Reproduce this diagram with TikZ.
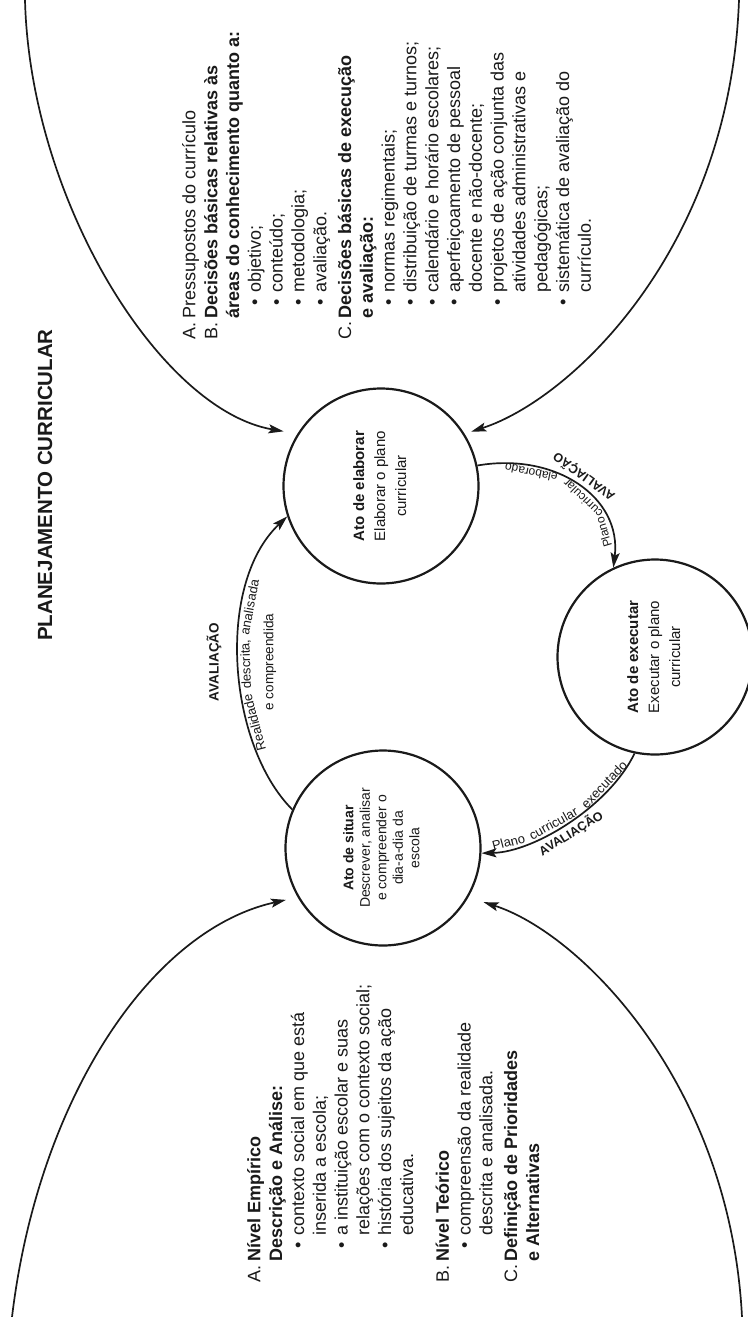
\documentclass[tikz,border=0pt]{standalone}
\usepackage{fontspec}
\setmainfont{Liberation Sans}
\usetikzlibrary{arrows.meta}
\definecolor{ink}{HTML}{1A1A1A}
\newcommand\lblx[1]{\makebox[21pt][l]{#1}}
\newcommand\indx{\hspace*{21pt}}
\newcommand\bulx{\hspace*{47pt}\llap{\textbullet\hspace{6pt}}}
\newcommand\contx{\hspace*{47pt}}
\begin{document}
\begin{tikzpicture}[x=1pt,y=1pt,
  line/.style={line width=1.7pt, draw=ink},
  arr/.style={line, -{Stealth[length=15pt,width=9pt,inset=3pt]}},
  act/.style={circle, draw=ink, line width=2.2pt, minimum size=195pt, inner sep=0pt, text=ink},
  txt/.style={rotate=90, anchor=north west, inner sep=0pt, align=left, text=ink, font=\fontsize{18}{21.8}\selectfont},
  lbl/.style={rotate=90, text=ink, inner sep=0pt, font=\fontsize{13.5}{16}\selectfont},
  lblb/.style={lbl, font=\bfseries\fontsize{13.5}{16}\selectfont},
  wl/.style={sloped, allow upside down, inner sep=2pt, text=ink, font=\fontsize{13}{15}\selectfont},
  wls/.style={wl, inner sep=2.5pt, font=\fontsize{12}{14}\selectfont},
  wlb/.style={wl, inner sep=3.5pt, font=\bfseries\fontsize{12.5}{14}\selectfont},
]
\useasboundingbox (0,-1317) rectangle (747,0);
\fill[white] (0,-1317) rectangle (747,0);

% title
\node[rotate=90, text=ink, font=\bfseries\fontsize{20.5}{24}\selectfont] (title) at (45,-485) {PLANEJAMENTO CURRICULAR};

% circles
\node[act] (elab) at (381,-486) {\rotatebox{90}{\fontsize{15}{21}\selectfont\begin{tabular}{@{}c@{}}\textbf{Ato de elaborar}\\Elaborar o plano\\curricular\end{tabular}}};
\node[act] (exec) at (655,-657) {\rotatebox{90}{\fontsize{15}{21}\selectfont\begin{tabular}{@{}c@{}}\textbf{Ato de executar}\\Executar o plano\\curricular\end{tabular}}};
\node[act] (sit) at (383,-848) {\rotatebox{90}{\fontsize{14}{16.5}\selectfont\begin{tabular}{@{}c@{}}\textbf{Ato de situar}\\Descrever, analisar\\e compreender o\\dia-a-dia da\\escola\end{tabular}}};

% cycle connector: situar -> elaborar
\draw[arr] (sit.157) .. controls (228,-745) and (215,-585) .. (elab.198);
\path (sit.157) .. controls (228,-745) and (215,-585) .. (elab.198)
  node[wl, pos=0.32, below] (rd1) {Realidade}
  node[wl, pos=0.5, below] (rd2) {descrita,}
  node[wl, pos=0.675, below] (rd3) {analisada};
\node[lbl] (ecomp) at (270,-662) {e compreendida};
\node[lblb] (av1) at (214,-662) {AVALIAÇÃO};

% cycle connector: elaborar -> executar
\draw[arr] (elab.12) .. controls (555,-452) and (622,-497) .. (exec.115);
\path (exec.115) .. controls (622,-497) and (555,-452) .. (elab.12)
  node[wls, pos=0.19, above] (pl1) {Plano}
  node[wls, pos=0.43, above] (pl2) {curricular}
  node[wls, pos=0.75, above] (pl3) {elaborado}
  node[wlb, pos=0.5, below] (av2) {AVALIAÇÃO};

% cycle connector: executar -> situar
\draw[arr] (exec.258) .. controls (610,-805) and (535,-852) .. (sit.357);
\path (sit.357) .. controls (535,-852) and (610,-805) .. (exec.258)
  node[wl, pos=0.17, above] (px1) {Plano}
  node[wl, pos=0.43, above] (px2) {curricular}
  node[wl, pos=0.76, above] (px3) {executado}
  node[wlb, pos=0.48, below] (av3) {AVALIAÇÃO};

% big arcs
\coordinate (tlS) at (25,0);
\coordinate (trS) at (739,0);
\coordinate (blS) at (12,-1317);
\coordinate (brS) at (742,-1317);
\draw[arr, shorten >=14pt] (tlS) .. controls (30,-200) and (160,-410) .. (elab.148);
\draw[arr, shorten >=7pt] (trS) .. controls (730,-250) and (570,-400) .. (elab.32);
\draw[arr, shorten >=12pt] (blS) .. controls (38,-1100) and (150,-930) .. (sit.210);
\draw[arr, shorten >=16pt] (brS) .. controls (730,-1083) and (580,-933) .. (sit.330);

% text blocks
\node[txt] (topblock) at (182,-340) {%
\lblx{A.}Pressupostos do currículo\\
\lblx{B.}\textbf{Decisões básicas relativas às}\\
\indx\textbf{áreas do conhecimento quanto a:}\\
\bulx objetivo;\\
\bulx conteúdo;\\
\bulx metodologia;\\
\bulx avaliação.\\[3pt]
\lblx{C.}\textbf{Decisões básicas de execução}\\
\indx\textbf{e avaliação:}\\
\bulx normas regimentais;\\
\bulx distribuição de turmas e turnos;\\
\bulx calendário e horário escolares;\\
\bulx aperfeiçoamento de pessoal\\
\contx docente e não-docente;\\
\bulx projetos de ação conjunta das\\
\contx atividades administrativas e\\
\contx pedagógicas;\\
\bulx sistemática de avaliação do\\
\contx currículo.};

\node[txt] (botblock) at (247,-1283) {%
\lblx{A.}\textbf{Nível Empírico}\\
\indx\textbf{Descrição e Análise:}\\
\bulx contexto social em que está\\
\contx inserida a escola;\\
\bulx a instituição escolar e suas\\
\contx relações com o contexto social;\\
\bulx história dos sujeitos da ação\\
\contx educativa.\\[14pt]
\lblx{B.}\textbf{Nível Teórico}\\
\bulx compreensão da realidade\\
\contx descrita e analisada.\\[3pt]
\lblx{C.}\textbf{Definição de Prioridades}\\
\indx\textbf{e Alternativas}};
\end{tikzpicture}
\end{document}
